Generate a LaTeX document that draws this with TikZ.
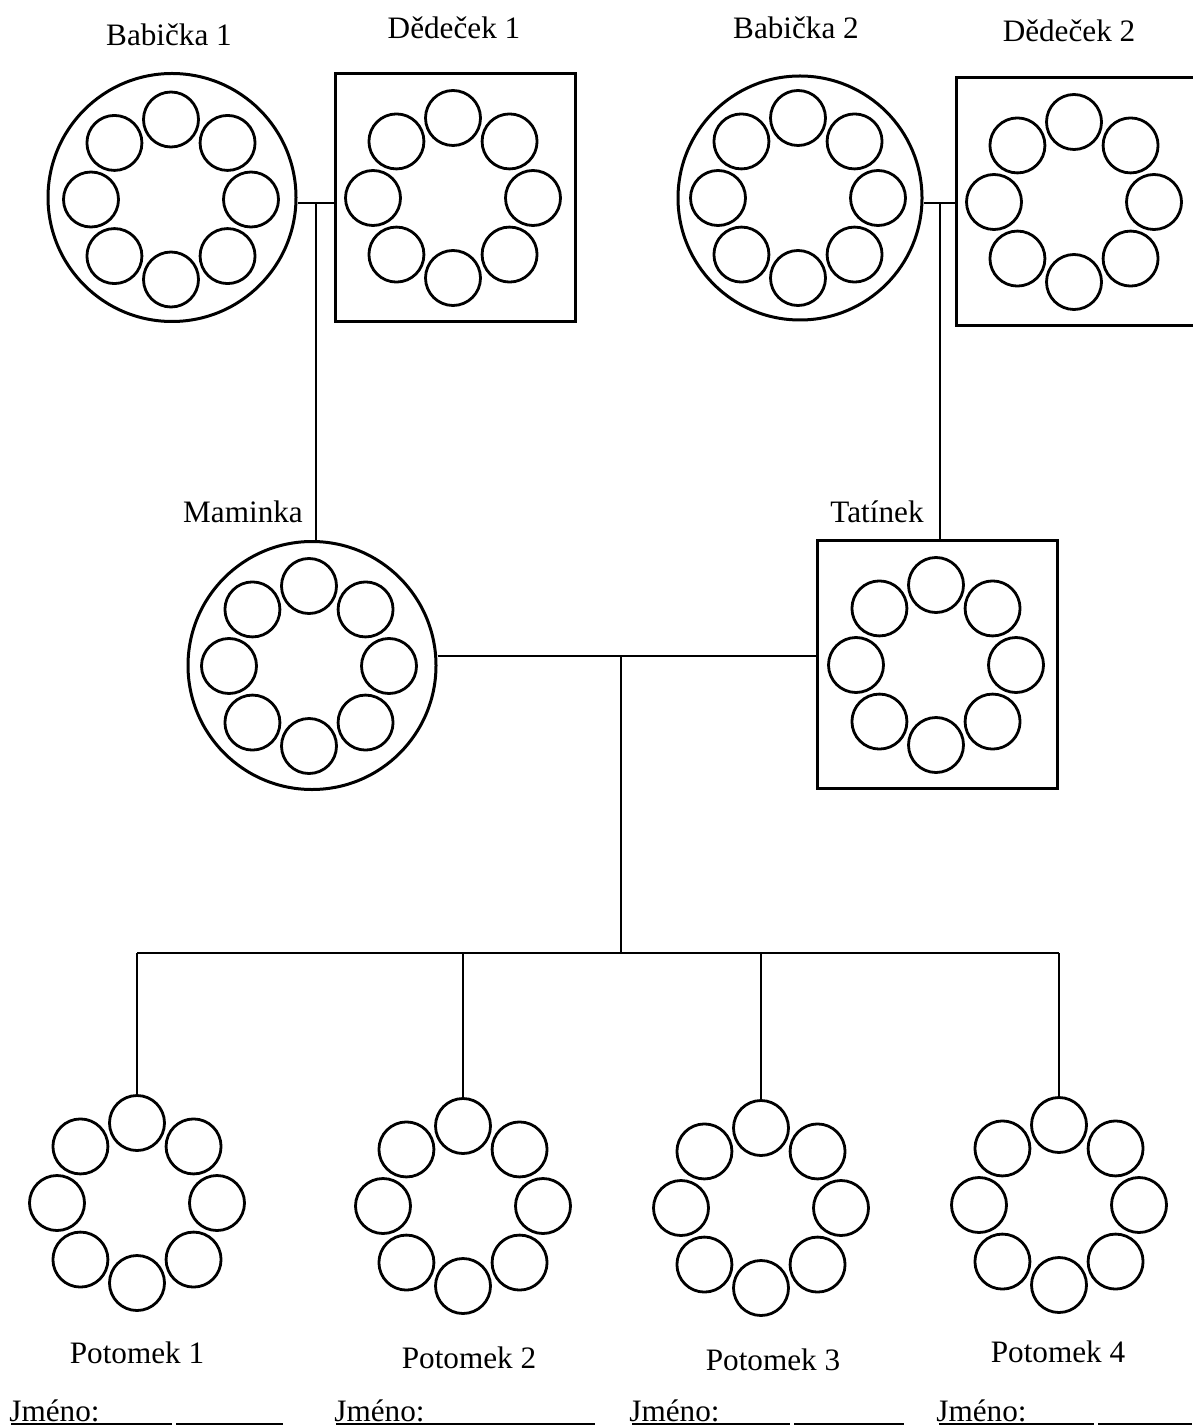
\documentclass[tikz,border=0pt]{standalone}
\usepackage{fontspec}
\setmainfont{Liberation Serif}
\usetikzlibrary{positioning}
\tikzset{
  zena/.style={circle, draw, line width=1.5pt, minimum size=124pt, inner sep=0pt},
  muz/.style={rectangle, draw, line width=1.5pt, minimum width=120pt, minimum height=124pt, inner sep=0pt},
  kolecko/.style={circle, draw, line width=1.4pt, minimum size=27.5pt, inner sep=0pt},
  spoj/.style={line width=0.7pt},
  podtrh/.style={line width=0.8pt},
  popis/.style={font=\fontsize{15.6}{18}\selectfont, inner sep=0pt},
}
% osm kolecek dokola: jmeno, stred
\newcommand{\prsten}[2]{%
  \begin{scope}[shift={(#2)}]
    \foreach \i in {0,...,7}
      \node[kolecko] (#1-\i) at ({-90+45*\i}:80) {};
  \end{scope}}

\begin{document}
\begin{tikzpicture}[x=0.5pt, y=-0.5pt]
\useasboundingbox (0,0) rectangle (1192,1427);

% prarodice 1
\node[zena] (bab1) at (172,197.5) {};
\prsten{bab1r}{171,199.5}
\node[popis] (bab1t) at (169,35) {Babička 1};
\node[muz] (ded1) at (455.5,197.5) {};
\prsten{ded1r}{453,198}
\node[popis] (ded1t) at (454,28) {Dědeček 1};

% prarodice 2
\node[zena, minimum size=122pt] (bab2) at (800,198) {};
\prsten{bab2r}{798,198}
\node[popis] (bab2t) at (796,28) {Babička 2};
\node[muz] (ded2) at (1076,201.5) {};
\prsten{ded2r}{1074,202}
\node[popis] (ded2t) at (1069,31) {Dědeček 2};

% rodice
\node[zena] (mam) at (312,665.5) {};
\prsten{mamr}{309,666}
\node[popis] (mamt) at (243,512) {Maminka};
\node[muz] (tat) at (937.5,664) {};
\prsten{tatr}{936,665}
\node[popis] (tatt) at (877,512) {Tatínek};

% potomci
\prsten{pot1}{137,1203}
\prsten{pot2}{463,1206}
\prsten{pot3}{761,1208}
\prsten{pot4}{1059,1205}
\node[popis] (pot1t) at (137,1353) {Potomek 1};
\node[popis] (pot2t) at (469,1358) {Potomek 2};
\node[popis] (pot3t) at (773,1360) {Potomek 3};
\node[popis] (pot4t) at (1058,1352) {Potomek 4};

% spojnice
\coordinate (s1) at (316,203);
\coordinate (s2) at (940,203);
\coordinate (s3) at (621,656);
\coordinate (s4) at (621,953);
\draw[spoj] (s1 -| bab1.east) -- (s1 -| ded1.west);
\draw[spoj] (s1) -- (s1 |- mam.north);
\draw[spoj] (s2 -| bab2.east) -- (s2 -| ded2.west);
\draw[spoj] (s2) -- (s2 |- tat.north);
\draw[spoj] (s3 -| mam.east) -- (s3 -| tat.west);
\draw[spoj] (s3) -- (s4);
\draw[spoj] (pot1-0.north |- s4) -- (pot4-0.north |- s4);
\foreach \p in {pot1,pot2,pot3,pot4}
  \draw[spoj] (\p-0.north |- s4) -- (\p-0.north);

% jmena
\node[popis, anchor=base west] (jm1) at (9,1421) {Jméno:};
\node[popis, anchor=base west] (jm2) at (334,1421) {Jméno:};
\node[popis, anchor=base west] (jm3) at (629,1421) {Jméno:};
\node[popis, anchor=base west] (jm4) at (936,1421) {Jméno:};
\draw[podtrh] (11,1424) -- (172,1424) (176,1424) -- (283,1424);
\draw[podtrh] (336,1424) -- (595,1424);
\draw[podtrh] (632,1424) -- (790,1424) (794,1424) -- (904,1424);
\draw[podtrh] (939,1424) -- (1094,1424) (1098,1424) -- (1192,1424);
\end{tikzpicture}
\end{document}
